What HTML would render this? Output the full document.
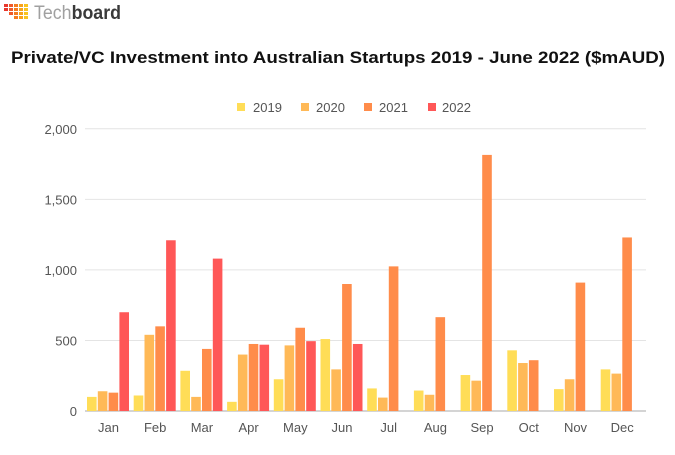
<!DOCTYPE html>
<html><head><meta charset="utf-8"><style>
body{margin:0;background:#fff;width:675px;height:450px;overflow:hidden;font-family:"Liberation Sans",sans-serif}
</style></head><body>
<svg id="s" width="675" height="450" xmlns="http://www.w3.org/2000/svg" font-family="Liberation Sans, sans-serif">
<g id="logo"></g>
<text x="34" y="19" font-size="19" fill="#a0a0a0" textLength="87" lengthAdjust="spacingAndGlyphs">Tech<tspan fill="#3a3a3a" font-weight="bold">board</tspan></text>
<text x="11" y="63" font-size="16.5" font-weight="bold" fill="#111" textLength="654" lengthAdjust="spacingAndGlyphs">Private/VC Investment into Australian Startups 2019 - June 2022 ($mAUD)</text>
<g font-size="13" fill="#555">
<rect x="237" y="103" width="8" height="8" fill="#FFDD57"/><text x="253" y="112">2019</text>
<rect x="301" y="103" width="8" height="8" fill="#FFB957"/><text x="316" y="112">2020</text>
<rect x="364" y="103" width="8" height="8" fill="#FF8C4A"/><text x="379" y="112">2021</text>
<rect x="428" y="103" width="8" height="8" fill="#FF5757"/><text x="442" y="112">2022</text>
</g>
<g id="g"></g>
</svg>
<script>
var lg='';
var lc=['#e8372c','#ef5a2a','#f47c20','#f7a21b','#f9c31f'];
for(var r=0;r<4;r++)for(var q=0;q<5;q++){if(q<r-1)continue;lg+='<rect x="'+(4+q*5)+'" y="'+(4+r*4)+'" width="4" height="3" fill="'+lc[Math.min(4,q)]+'"/>';}
document.getElementById('logo').innerHTML=lg;
var g=document.getElementById('g'),h='';
var y0=411,k=0.1411;
[0,500,1000,1500,2000].forEach(function(v){var y=y0-v*k;
h+='<line x1="85" x2="646" y1="'+y+'" y2="'+y+'" stroke="'+(v?'#e4e4e4':'#aaa')+'" stroke-width="1"/>';
h+='<text x="77" y="'+(y+5)+'" font-size="13" fill="#555" text-anchor="end">'+(v?v.toLocaleString('en-US'):'0')+'</text>';});
var d=[[100,140,130,700],[110,540,600,1210],[285,100,440,1080],[65,400,475,470],[225,465,590,495],[510,295,900,475],[160,95,1025],[145,115,665],[255,215,1815],[430,340,360],[155,225,910],[295,265,1230]];
var m=['Jan','Feb','Mar','Apr','May','Jun','Jul','Aug','Sep','Oct','Nov','Dec'];
var c=['#FFDD57','#FFB957','#FF8C4A','#FF5757'];
d.forEach(function(r,i){var x0=87+i*46.7;
r.forEach(function(v,j){var hh=v*k;h+='<rect x="'+(x0+j*10.8)+'" y="'+(y0-hh)+'" width="9.6" height="'+hh+'" fill="'+c[j]+'"/>';});
h+='<text x="'+(x0+21.5)+'" y="432" font-size="13" fill="#555" text-anchor="middle">'+m[i]+'</text>';});
g.innerHTML=h;
</script>
</body></html>
